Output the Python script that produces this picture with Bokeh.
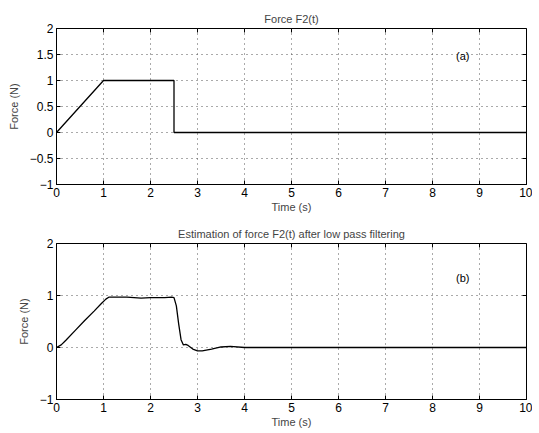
import math
from bokeh.plotting import figure
from bokeh.layouts import column
from bokeh.models import LinearAxis, FixedTicker, Label, Range1d
from bokeh.embed import file_html
from bokeh.resources import INLINE

# Data
t_a = [0, 1, 2.5, 2.5, 10]
f_a = [0, 1, 1, 0, 0]

t_b = [0, 0.1, 0.2, 0.4, 0.6, 0.8, 0.95, 1.05, 1.12, 1.2, 1.5, 1.8, 2.0, 2.3, 2.45,
       2.5, 2.55, 2.6, 2.65, 2.7, 2.75, 2.8, 2.9, 3.0, 3.1, 3.3, 3.5, 3.7, 4.0, 5, 10]
f_b = [0, 0.05, 0.14, 0.33, 0.52, 0.7, 0.84, 0.93, 0.97, 0.97, 0.97, 0.95, 0.96, 0.96, 0.97,
       0.96, 0.8, 0.45, 0.15, 0.05, 0.06, 0.04, -0.03, -0.065, -0.065, -0.03, 0.01, 0.02, 0.0, 0.0, 0.0]

x_ticks = [0, 1, 2, 3, 4, 5, 6, 7, 8, 9, 10]
y_ticks_a = [-1, -0.5, 0, 0.5, 1, 1.5, 2]
y_ticks_b = [-1, 0, 1, 2]

FONT = "Liberation Sans"
X_MIN, X_MAX, Y_MIN, Y_MAX = 0, 10, -1, 2


def make(title, xs, ys, yticks, label, lx, ly, height, top, bottom):
    p = figure(width=532, height=height, output_backend="svg", toolbar_location=None,
               x_range=Range1d(X_MIN, X_MAX), y_range=Range1d(Y_MIN, Y_MAX),
               min_border_left=56, min_border_right=6, min_border_top=top,
               min_border_bottom=bottom, x_axis_location=None, y_axis_location=None)
    p.title.text = title
    p.title.align = "center"
    p.title.text_font = FONT
    p.title.text_font_style = "normal"
    p.title.text_font_size = "11px"
    p.title.standoff = 8
    p.outline_line_color = "black"
    p.outline_line_width = 1
    p.background_fill_color = "white"
    p.border_fill_color = "white"

    for loc, ticks in [("below", x_ticks), ("left", yticks)]:
        ax = LinearAxis(ticker=FixedTicker(ticks=ticks))
        ax.major_tick_in = 4
        ax.major_tick_out = 0
        ax.minor_tick_line_color = None
        ax.axis_line_color = "black"
        ax.major_tick_line_color = "black"
        ax.major_label_text_font = FONT
        ax.major_label_text_font_size = "12px"
        ax.major_label_text_color = "black"
        ax.axis_label_text_font = FONT
        ax.axis_label_text_font_style = "normal"
        ax.axis_label_text_font_size = "11px"
        if loc == "below":
            ax.axis_label = "Time (s)"
            ax.axis_label_standoff = 1
            ax.major_label_standoff = 3
        else:
            ax.axis_label = "Force (N)"
            ax.axis_label_standoff = 7
            ax.major_label_standoff = 3
        p.add_layout(ax, loc)

    # inward tick marks on the top and right frame edges
    p.scatter(x_ticks, [Y_MAX] * len(x_ticks), marker="dash", angle=math.pi / 2,
              size=8, line_color="black", line_width=1)
    p.scatter([X_MAX] * len(yticks), yticks, marker="dash", angle=0,
              size=8, line_color="black", line_width=1)

    p.xgrid.ticker = FixedTicker(ticks=x_ticks)
    p.ygrid.ticker = FixedTicker(ticks=yticks)
    for g in (p.xgrid, p.ygrid):
        g.grid_line_color = "#555555"
        g.grid_line_dash = "1 4"
        g.grid_line_width = 1

    p.line(xs, ys, line_color="black", line_width=1.3)
    p.add_layout(Label(x=lx, y=ly, text=label, text_font=FONT, text_font_size="11px",
                       text_color="black", text_baseline="middle"))
    return p


pa = make("Force F2(t)", t_a, f_a, y_ticks_a, "(a)", 8.5, 1.47, 215, 28, 30)
pb = make("Estimation of force F2(t) after low pass filtering", t_b, f_b, y_ticks_b,
          "(b)", 8.5, 1.33, 215, 28, 27)

layout = column(pa, pb, spacing=0)
open("out.html", "w").write(file_html(layout, INLINE))
